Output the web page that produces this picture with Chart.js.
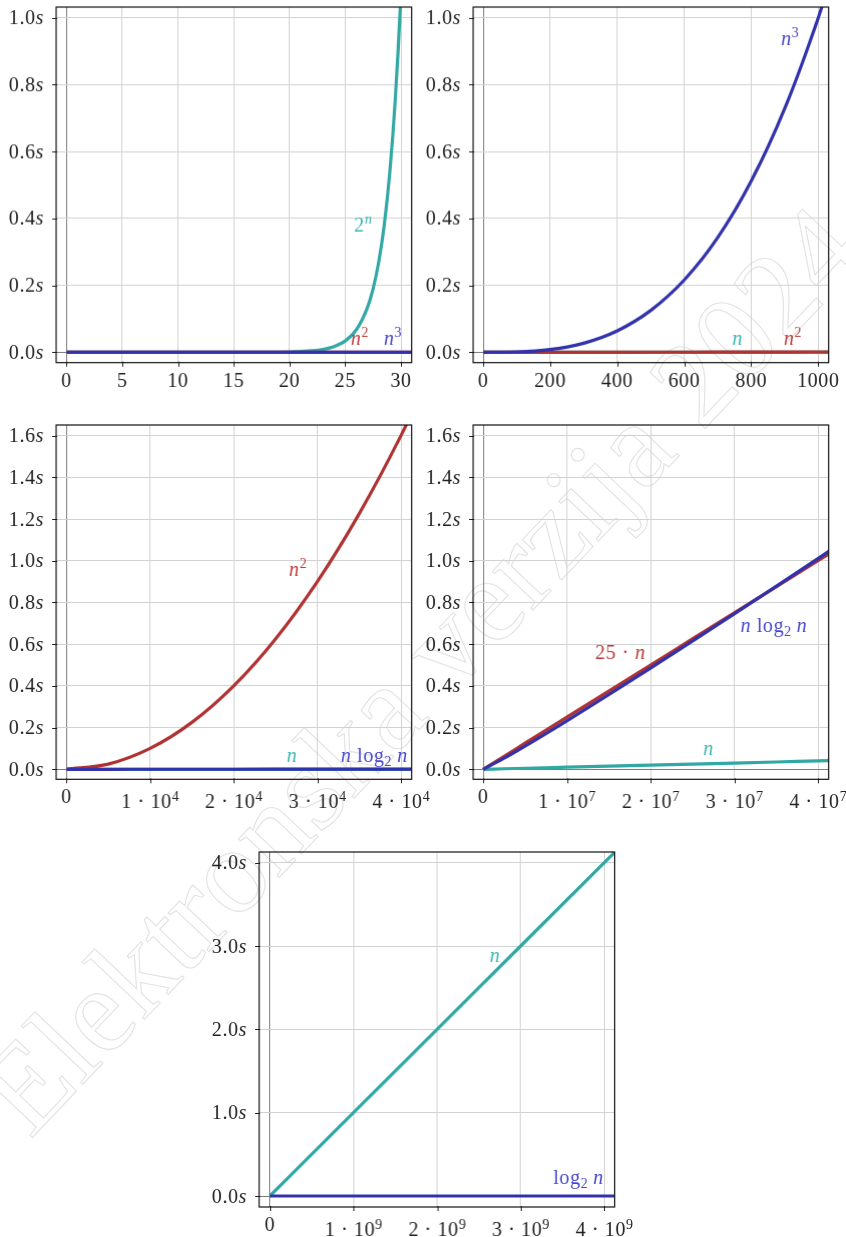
<!DOCTYPE html>
<html>
<head>
<meta charset="utf-8">
<title>Rast funkcija</title>
<script src="https://cdn.jsdelivr.net/npm/chart.js@4.4.1/dist/chart.umd.min.js"></script>
<style>
  body { margin: 0; background: #fff; }
  #page { position: relative; width: 846px; height: 1237px; overflow: hidden; }
  #watermark { position: absolute; left: 0; top: 0; }
  .panel { position: absolute; }
</style>
</head>
<body>
<div id="page">
  <canvas id="watermark" width="846" height="1237"></canvas>
</div>
<script>
// ---- data (seconds) ----
// panel 1: n = 0..31
const p1N = [0, 10, 15, 18, 20, 21, 22, 23, 24, 25, 26, 27, 27.5, 28, 28.5, 29, 29.5, 30, 30.5];
const p1Exp = [0, 0.000001, 0.00003, 0.00026, 0.00105, 0.0021, 0.0042, 0.0084, 0.0168, 0.0336, 0.0671, 0.1342, 0.1898, 0.2684, 0.3796, 0.5369, 0.7593, 1.0737, 1.5185];
const p1Flat = [0, 31];
const p1Sq = [0, 0.000001];
const p1Cube = [0, 0.00003];

// panel 2: n = 0..1000
const p2N = [0, 100, 200, 300, 400, 500, 600, 700, 800, 900, 1000, 1050];
const p2Cube = [0, 0.001, 0.008, 0.027, 0.064, 0.125, 0.216, 0.343, 0.512, 0.729, 1.0, 1.158];
const p2Sq = [0, 0.00001, 0.00004, 0.00009, 0.00016, 0.00025, 0.00036, 0.00049, 0.00064, 0.00081, 0.001, 0.0011];
const p2Lin = [0, 0, 0, 0, 0, 0, 0, 0, 0, 0, 0.000001, 0.000001];

// panel 3: n = 0..4*10^4
const p3N = [0, 5000, 10000, 15000, 20000, 25000, 30000, 35000, 40000, 45000];
const p3Sq = [0, 0.025, 0.1, 0.225, 0.4, 0.625, 0.9, 1.225, 1.6, 2.025];
const p3NLog = [0, 0.00006, 0.00013, 0.00021, 0.00029, 0.00037, 0.00045, 0.00053, 0.00061, 0.0007];
const p3Lin = [0, 0.000005, 0.00001, 0.000015, 0.00002, 0.000025, 0.00003, 0.000035, 0.00004, 0.000045];

// panel 4: n = 0..4*10^7
const p4N = [0, 2.5e6, 5e6, 1e7, 1.5e7, 2e7, 2.5e7, 3e7, 3.5e7, 4e7, 4.5e7];
const p4Lin25 = [0, 0.0625, 0.125, 0.25, 0.375, 0.5, 0.625, 0.75, 0.875, 1.0, 1.125];
const p4NLog = [0, 0.0531, 0.1113, 0.2325, 0.3576, 0.4851, 0.6144, 0.7452, 0.8771, 1.0101, 1.1441];
const p4Lin = [0, 0.0025, 0.005, 0.01, 0.015, 0.02, 0.025, 0.03, 0.035, 0.04, 0.045];

// panel 5: n = 0..4*10^9
const p5N = [0, 1e9, 2e9, 3e9, 4e9, 4.5e9];
const p5Lin = [0, 1, 2, 3, 4, 4.5];
const p5Log = [0, 0.00000003, 0.00000003, 0.00000003, 0.00000003, 0.00000003];

// ticks
const p1XTicks = [0, 5, 10, 15, 20, 25, 30];
const p1XLabels = ['0', '5', '10', '15', '20', '25', '30'];
const p2XTicks = [0, 200, 400, 600, 800, 1000];
const p2XLabels = ['0', '200', '400', '600', '800', '1000'];
const p3XTicks = [0, 1e4, 2e4, 3e4, 4e4];
const p3XLabels = ['0', '1 · 10^4', '2 · 10^4', '3 · 10^4', '4 · 10^4'];
const p4XTicks = [0, 1e7, 2e7, 3e7, 4e7];
const p4XLabels = ['0', '1 · 10^7', '2 · 10^7', '3 · 10^7', '4 · 10^7'];
const p5XTicks = [0, 1e9, 2e9, 3e9, 4e9];
const p5XLabels = ['0', '1 · 10^9', '2 · 10^9', '3 · 10^9', '4 · 10^9'];
const yTicksA = [0, 0.2, 0.4, 0.6, 0.8, 1.0];
const yLabelsA = ['0.0', '0.2', '0.4', '0.6', '0.8', '1.0'];
const yTicksB = [0, 0.2, 0.4, 0.6, 0.8, 1.0, 1.2, 1.4, 1.6];
const yLabelsB = ['0.0', '0.2', '0.4', '0.6', '0.8', '1.0', '1.2', '1.4', '1.6'];
const yTicksC = [0, 1, 2, 3, 4];
const yLabelsC = ['0.0', '1.0', '2.0', '3.0', '4.0'];

const TEAL = 'rgb(50,168,164)', RED = 'rgb(176,50,50)', BLUE = 'rgb(50,50,172)';
const TEAL_T = 'rgb(58,182,176)', RED_T = 'rgb(192,58,58)', BLUE_T = 'rgb(70,70,204)';

const FONT = '"Liberation Serif", "DejaVu Serif", serif';
const STYLE = {
  r: { font: '20px ' + FONT, dy: 0, ls: '0.6px' },
  i: { font: 'italic 20px ' + FONT, dy: 0, ls: '0.6px' },
  sup: { font: '14px ' + FONT, dy: -7.5, ls: '0px' },
  supi: { font: 'italic 14px ' + FONT, dy: -7.5, ls: '0px' },
  sub: { font: '14px ' + FONT, dy: 4, ls: '0px' }
};

function setStyle(ctx, s) {
  ctx.font = s.font;
  if ('letterSpacing' in ctx) ctx.letterSpacing = s.ls;
}

function drawRich(ctx, parts, x, y, align, color) {
  let w = 0;
  parts.forEach(p => { setStyle(ctx, STYLE[p[1]]); w += ctx.measureText(p[0]).width; });
  let cx = align === 'right' ? x - w : (align === 'center' ? x - w / 2 : x);
  ctx.fillStyle = color;
  ctx.textAlign = 'left';
  ctx.textBaseline = 'alphabetic';
  parts.forEach(p => {
    const s = STYLE[p[1]];
    setStyle(ctx, s);
    ctx.fillText(p[0], cx, y + s.dy);
    cx += ctx.measureText(p[0]).width;
  });
  if ('letterSpacing' in ctx) ctx.letterSpacing = '0px';
}

const PAD = { left: 60, top: 10, right: 45, bottom: 40 };

function makePanel(cfg) {
  const [l, t, r, b] = cfg.box;
  const div = document.createElement('div');
  div.className = 'panel';
  div.style.left = (l - PAD.left) + 'px';
  div.style.top = (t - PAD.top) + 'px';
  div.style.width = (r - l + PAD.left + PAD.right) + 'px';
  div.style.height = (b - t + PAD.top + PAD.bottom) + 'px';
  const canvas = document.createElement('canvas');
  div.appendChild(canvas);
  document.getElementById('page').appendChild(div);

  // frame, tick marks, rich labels
  const deco = {
    id: 'deco',
    afterDraw(chart) {
      const ctx = chart.ctx, a = chart.chartArea;
      const xs = chart.scales.x, ys = chart.scales.y;
      ctx.save();
      ctx.strokeStyle = '#222';
      ctx.lineWidth = 1;
      ctx.beginPath();
      cfg.xTicks.forEach(v => {
        const px = Math.round(xs.getPixelForValue(v)) + 0.5;
        ctx.moveTo(px, a.bottom - 1); ctx.lineTo(px, a.bottom + 4);
      });
      cfg.yTicks.forEach(v => {
        const py = Math.round(ys.getPixelForValue(v)) + 0.5;
        ctx.moveTo(a.left - 4, py); ctx.lineTo(a.left + 1, py);
      });
      ctx.stroke();
      ctx.strokeStyle = '#111';
      ctx.lineWidth = 1.2;
      ctx.strokeRect(a.left, a.top, a.right - a.left, a.bottom - a.top);

      cfg.yLabels.forEach((lab, i) => {
        drawRich(ctx, [[lab, 'r'], ['s', 'i']], a.left - 12, ys.getPixelForValue(cfg.yTicks[i]) + 6.5, 'right', '#222');
      });
      cfg.xLabels.forEach((lab, i) => {
        const [m, e] = lab.split('^');
        const parts = e ? [[m, 'r'], [e, 'sup']] : [[m, 'r']];
        drawRich(ctx, parts, xs.getPixelForValue(cfg.xTicks[i]), a.bottom + (e ? 29 : 24), 'center', '#222');
      });
      cfg.notes.forEach(nt => {
        drawRich(ctx, nt.parts, xs.getPixelForValue(nt.x), ys.getPixelForValue(nt.y), 'left', nt.color);
      });
      ctx.restore();
    }
  };

  const gridColor = c => (c.tick && c.tick.value === 0) ? '#7c7c7c' : '#d2d2d2';

  return new Chart(canvas, {
    type: 'line',
    data: {
      datasets: cfg.series.map(s => ({
        data: s.xs.map((x, i) => ({ x: x, y: s.ys[i] })),
        borderColor: s.color,
        borderWidth: 3.2,
        pointRadius: 0,
        fill: false,
        cubicInterpolationMode: 'monotone',
        clip: 0,
        order: s.order
      }))
    },
    options: {
      responsive: true,
      maintainAspectRatio: false,
      animation: false,
      events: [],
      layout: { padding: PAD },
      plugins: { legend: { display: false }, tooltip: { enabled: false } },
      scales: {
        x: {
          type: 'linear', min: cfg.xMin, max: cfg.xMax,
          afterBuildTicks: sc => { sc.ticks = cfg.xTicks.map(v => ({ value: v })); },
          afterFit: sc => { sc.height = 0; },
          ticks: { display: false },
          border: { display: false },
          grid: { color: gridColor, lineWidth: 1, drawTicks: false }
        },
        y: {
          type: 'linear', min: cfg.yMin, max: cfg.yMax,
          afterBuildTicks: sc => { sc.ticks = cfg.yTicks.map(v => ({ value: v })); },
          afterFit: sc => { sc.width = 0; },
          ticks: { display: false },
          border: { display: false },
          grid: { color: gridColor, lineWidth: 1, drawTicks: false }
        }
      }
    },
    plugins: [deco]
  });
}

// watermark
(function () {
  const wm = document.getElementById('watermark').getContext('2d');
  wm.save();
  wm.translate(30, 1140);
  wm.rotate(-46.5 * Math.PI / 180);
  wm.font = '122px ' + FONT;
  wm.textAlign = 'left';
  wm.textBaseline = 'alphabetic';
  wm.strokeStyle = '#e3e3e3';
  wm.lineWidth = 1.1;
  wm.strokeText('Elektronska verzija 2024', 0, 0);
  wm.restore();
})();

makePanel({
  box: [56, 7.33, 410.67, 362],
  xMin: -0.93, xMax: 30.96, yMin: -0.031, yMax: 1.032,
  xTicks: p1XTicks, xLabels: p1XLabels, yTicks: yTicksA, yLabels: yLabelsA,
  series: [
    { xs: p1Flat, ys: p1Cube, color: BLUE, order: 0 },
    { xs: p1Flat, ys: p1Sq, color: RED, order: 1 },
    { xs: p1N, ys: p1Exp, color: TEAL, order: 2 }
  ],
  notes: [
    { x: 25.8, y: 0.362, color: TEAL_T, parts: [['2', 'r'], ['n', 'supi']] },
    { x: 25.5, y: 0.023, color: RED_T, parts: [['n', 'i'], ['2', 'sup']] },
    { x: 28.46, y: 0.023, color: BLUE_T, parts: [['n', 'i'], ['3', 'sup']] }
  ]
});

makePanel({
  box: [473.33, 7.33, 828, 362],
  xMin: -30, xMax: 1031, yMin: -0.031, yMax: 1.032,
  xTicks: p2XTicks, xLabels: p2XLabels, yTicks: yTicksA, yLabels: yLabelsA,
  series: [
    { xs: p2N, ys: p2Cube, color: BLUE, order: 0 },
    { xs: p2N, ys: p2Sq, color: RED, order: 1 },
    { xs: p2N, ys: p2Lin, color: TEAL, order: 2 }
  ],
  notes: [
    { x: 889, y: 0.919, color: BLUE_T, parts: [['n', 'i'], ['3', 'sup']] },
    { x: 743, y: 0.023, color: TEAL_T, parts: [['n', 'i']] },
    { x: 897, y: 0.023, color: RED_T, parts: [['n', 'i'], ['2', 'sup']] }
  ]
});

makePanel({
  box: [56, 425, 410.67, 779.33],
  xMin: -1238, xMax: 41280, yMin: -0.048, yMax: 1.651,
  xTicks: p3XTicks, xLabels: p3XLabels, yTicks: yTicksB, yLabels: yLabelsB,
  series: [
    { xs: p3N, ys: p3NLog, color: BLUE, order: 0 },
    { xs: p3N, ys: p3Sq, color: RED, order: 1 },
    { xs: p3N, ys: p3Lin, color: TEAL, order: 2 }
  ],
  notes: [
    { x: 26612, y: 0.929, color: RED_T, parts: [['n', 'i'], ['2', 'sup']] },
    { x: 26340, y: 0.036, color: TEAL_T, parts: [['n', 'i']] },
    { x: 32810, y: 0.036, color: BLUE_T, parts: [['n', 'i'], [' log', 'r'], ['2', 'sub'], [' n', 'i']] }
  ]
});

makePanel({
  box: [473.33, 425, 828, 779.33],
  xMin: -1.2e6, xMax: 4.128e7, yMin: -0.048, yMax: 1.651,
  xTicks: p4XTicks, xLabels: p4XLabels, yTicks: yTicksB, yLabels: yLabelsB,
  series: [
    { xs: p4N, ys: p4NLog, color: BLUE, order: 0 },
    { xs: p4N, ys: p4Lin25, color: RED, order: 1 },
    { xs: p4N, ys: p4Lin, color: TEAL, order: 2 }
  ],
  notes: [
    { x: 1.338e7, y: 0.528, color: RED_T, parts: [['25 · ', 'r'], ['n', 'i']] },
    { x: 3.074e7, y: 0.660, color: BLUE_T, parts: [['n', 'i'], [' log', 'r'], ['2', 'sub'], [' n', 'i']] },
    { x: 2.628e7, y: 0.069, color: TEAL_T, parts: [['n', 'i']] }
  ]
});

makePanel({
  box: [259.33, 851.67, 614, 1206.67],
  xMin: -0.128e9, xMax: 4.124e9, yMin: -0.132, yMax: 4.128,
  xTicks: p5XTicks, xLabels: p5XLabels, yTicks: yTicksC, yLabels: yLabelsC,
  series: [
    { xs: p5N, ys: p5Log, color: BLUE, order: 0 },
    { xs: p5N, ys: p5Lin, color: TEAL, order: 1 }
  ],
  notes: [
    { x: 2.629e9, y: 2.807, color: TEAL_T, parts: [['n', 'i']] },
    { x: 3.389e9, y: 0.149, color: BLUE_T, parts: [['log', 'r'], ['2', 'sub'], [' n', 'i']] }
  ]
});
</script>
</body>
</html>
